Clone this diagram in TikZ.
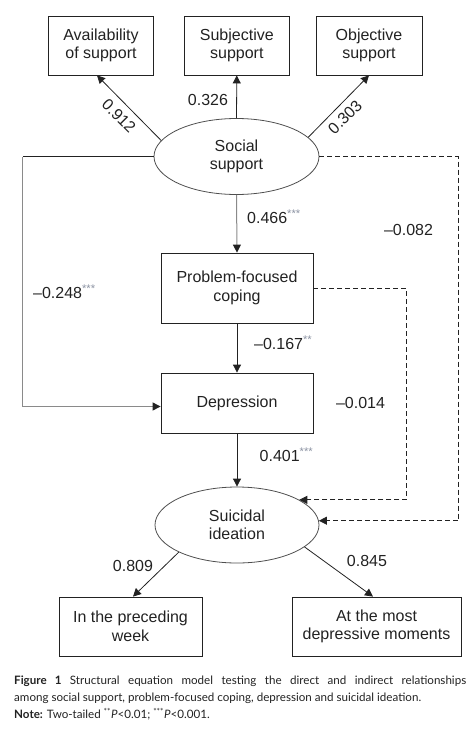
\documentclass[tikz,border=0pt]{standalone}
\usepackage{fontspec}
\setmainfont{Liberation Sans}
\newfontfamily\captfont{Lato}
\usetikzlibrary{shapes.geometric,arrows.meta,calc}
\definecolor{stargray}{HTML}{8C93A3}
\definecolor{lngray}{HTML}{8A8A8A}
\definecolor{ink}{HTML}{222222}
\newcommand\sigst[1]{\textsuperscript{\color{stargray}#1}}
\begin{document}
\begin{tikzpicture}[x=1pt,y=-1pt,
  every node/.style={font=\fontsize{16}{18.5}\selectfont, text=ink},
  boxnode/.style={draw=ink, line width=0.8pt, rectangle, align=center, inner sep=0pt},
  ellnode/.style={draw=ink!80, line width=0.8pt, ellipse, align=center, inner sep=0pt, minimum width=165pt, minimum height=76pt},
  arr/.style={draw=ink, line width=0.8pt, -{Triangle[length=8pt,width=8pt]}},
  garr/.style={draw=lngray, line width=1pt, -{Triangle[length=8pt,width=8pt,color=ink]}},
  dsh/.style={draw=ink, line width=0.8pt, dash pattern=on 5pt off 3pt, -{Triangle[length=8pt,width=8pt]}},
  lbl/.style={inner sep=0pt}
]
\useasboundingbox (0,0) rectangle (476,736);
% nodes
\node[boxnode, minimum width=105pt, minimum height=59pt] (avail) at (101,45.5) {Availability\\of support};
\node[boxnode, minimum width=105pt, minimum height=59pt] (subj) at (236.8,45.5) {Subjective\\support};
\node[boxnode, minimum width=106pt, minimum height=59pt] (obj) at (369,45.5) {Objective\\support};
\node[ellnode] (ss) at (236.5,156.5) {Social\\support};
\node[boxnode, minimum width=152pt, minimum height=70pt] (pfc) at (237,288) {Problem-focused\\coping};
\node[boxnode, minimum width=152pt, minimum height=60pt] (dep) at (237,403) {Depression};
\node[ellnode, minimum width=164pt] (si) at (237,525) {Suicidal\\ideation};
\node[boxnode, minimum width=143pt, minimum height=59pt] (ipw) at (130.5,626.5) {In the preceding\\week};
\node[boxnode, minimum width=169pt, minimum height=59pt] (atm) at (376.5,626.5) {At the most\\depressive moments};
% connectors
\draw[arr] (ss.168) -- ($(avail.south)+(-4,0)$);
\draw[arr] (ss.north) -- (subj.south);
\draw[arr] (ss.15) -- (obj.south);
\draw[garr] (ss.south) -- (pfc.north);
\draw[arr] (pfc.south) -- (dep.north);
\draw[arr] (dep.south) -- (si.north);
\draw[ink, line width=0.8pt] (ss.west) -- ++(-131,0) coordinate (lc);
\draw[garr] (lc) |- ($(dep.west)+(0,3.5)$);
\draw[dsh] (pfc.east) -- ++(93,0) |- (si.22);
\draw[dsh] (ss.east) -- ++(139,0) |- (si.3);
\draw[arr] (si.205) -- ($(ipw.north)+(2.5,0)$);
\draw[arr] (si.342) -- ($(atm.north)+(-3.5,0)$);
% labels
\node[lbl, rotate=-45] (l912) at (119,116) {0.912};
\node[lbl] (l326) at (208,100) {0.326};
\node[lbl, rotate=45] (l303) at (345,117) {0.303};
\node[lbl, anchor=west] (l466) at (247,217) {0.466\sigst{***}};
\node[lbl] (l082) at (408.5,230) {\textendash 0.082};
\node[lbl, anchor=west] (l248) at (33,292) {\textendash 0.248\sigst{***}};
\node[lbl, anchor=west] (l167) at (254,343) {\textendash 0.167\sigst{**}};
\node[lbl] (l014) at (360.5,403) {\textendash 0.014};
\node[lbl, anchor=west] (l401) at (259.5,455) {0.401\sigst{***}};
\node[lbl] (l809) at (133,566) {0.809};
\node[lbl] (l845) at (367,561) {0.845};
% caption
\node[anchor=north west, inner sep=0pt, text width=452pt, align=justify, font=\captfont\fontsize{11.6}{17}\selectfont, text=ink] (cap) at (14,676)
{\textbf{Figure 1} Structural equation model testing the direct and indirect relationships\linebreak among social support, problem-focused coping, depression and suicidal ideation.\par
\textbf{Note:} Two-tailed \textsuperscript{**}\textit{P}{<}0.01; \textsuperscript{***}\textit{P}{<}0.001.};
\end{tikzpicture}
\end{document}
